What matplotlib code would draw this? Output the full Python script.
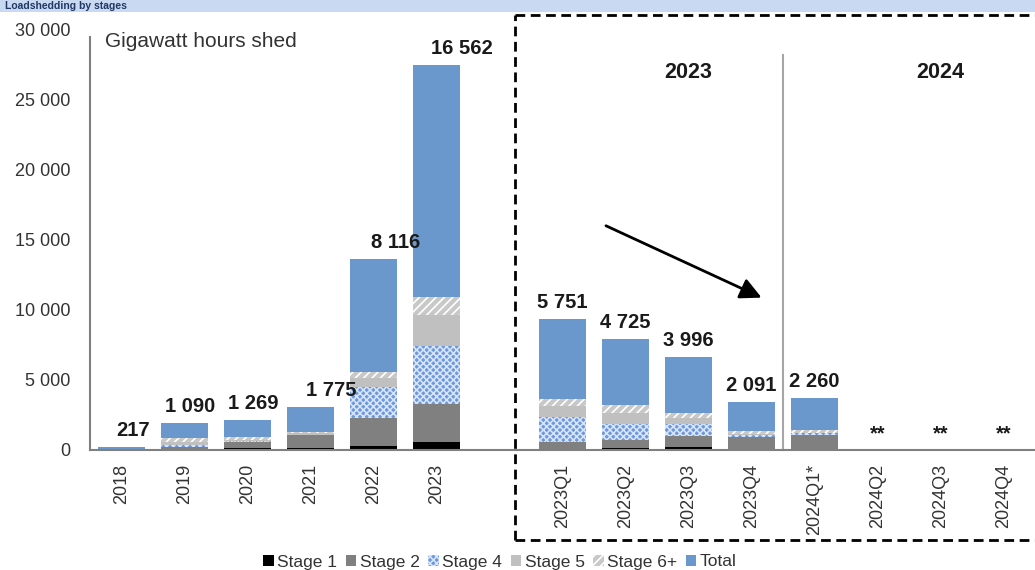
import numpy as np
import matplotlib
matplotlib.use('Agg')
import matplotlib.pyplot as plt
from matplotlib.patches import Rectangle
from matplotlib.lines import Line2D

plt.rcParams['font.family'] = ['Liberation Sans', 'DejaVu Sans']
plt.rcParams['hatch.linewidth'] = 1.2

years = ['2018', '2019', '2020', '2021', '2022', '2023']
quarters = ['2023Q1', '2023Q2', '2023Q3', '2023Q4', '2024Q1*', '2024Q2', '2024Q3', '2024Q4']
cats = years + quarters

stage1 = [0, 30, 150, 150, 300, 600, 100, 170, 240, 100, 100, 0, 0, 0]
stage2 = [30, 150, 450, 900, 1960, 2700, 500, 540, 760, 800, 1000, 0, 0, 0]
stage4 = [0, 200, 50, 50, 2210, 4100, 1780, 1150, 860, 200, 100, 0, 0, 0]
stage5 = [0, 200, 100, 100, 650, 2250, 760, 760, 400, 50, 30, 0, 0, 0]
stage6 = [0, 250, 150, 100, 430, 1300, 480, 590, 410, 210, 200, 0, 0, 0]
total = [217, 1090, 1269, 1775, 8116, 16562, 5751, 4725, 3996, 2091, 2260, 0, 0, 0]
value_labels = ['217', '1 090', '1 269', '1 775', '8 116', '16 562', '5 751', '4 725',
                '3 996', '2 091', '2 260', '**', '**', '**']
# small sideways nudges of the labels, in points
label_dx = [8, 4, 4, 15, 16, 18, 0, 0, 0, 0, 0, 0, 0, 0]

# years then a one-slot gap then the quarters
pos = np.concatenate([np.arange(len(years)), np.arange(len(quarters)) + len(years) + 1])

fig = plt.figure(figsize=(10.35, 5.7), dpi=100)
ax = fig.add_axes([90/1035, 1-450/570, 945/1035, 420/570])

series = [
    ('Stage 1', stage1, dict(color='black')),
    ('Stage 2', stage2, dict(color='#808080')),
    ('Stage 4', stage4, dict(facecolor='#6b97dc', edgecolor='#d6e3f8', hatch='xxxxx')),
    ('Stage 5', stage5, dict(color='#c0c0c0')),
    ('Stage 6+', stage6, dict(facecolor='#c8c8c8', edgecolor='white', hatch='////')),
    ('Total', total, dict(color='#6b98cc')),
]
bottom = np.zeros(len(cats))
handles = []
for name, vals, style in series:
    vals = np.array(vals, dtype=float)
    b = ax.bar(pos, vals, 0.76, bottom=bottom, linewidth=0, label=name, **style)
    handles.append(b)
    bottom += vals

for x, top, lab, dx in zip(pos, bottom, value_labels, label_dx):
    ax.annotate(lab, (x, top), xytext=(dx, 5), textcoords='offset points',
                ha='center', va='bottom', fontsize=14.5, fontweight='bold', color='#1a1a1a')

ax.set_xlim(-0.5, 14.5)
ax.set_ylim(0, 30000)
ax.set_yticks(np.arange(0, 30001, 5000))
ax.set_yticklabels([f'{int(v):,}'.replace(',', ' ') for v in ax.get_yticks()])
ax.set_xticks(pos)
ax.set_xticklabels(cats, rotation=90)
ax.tick_params(axis='both', length=0, labelsize=13, colors='#333333')
ax.tick_params(axis='x', pad=10)
ax.tick_params(axis='y', pad=14)
for s in ['top', 'right']:
    ax.spines[s].set_visible(False)
ax.spines['left'].set_color('#808080')
ax.spines['left'].set_linewidth(1.5)
ax.spines['left'].set_bounds(0, 29500)
ax.spines['bottom'].set_color('#808080')
ax.spines['bottom'].set_linewidth(1.5)

ax.text(-0.26, 29200, 'Gigawatt hours shed', fontsize=15, color='#333333', va='center')

# separator between 2023 and 2024 quarters
ax.plot([10.5, 10.5], [0, 28200], color='#a6a6a6', lw=1.5, clip_on=False)
ax.text(9.0, 27000, '2023', fontsize=15.5, fontweight='bold', ha='center', va='center', color='#1a1a1a')
ax.text(13.0, 27000, '2024', fontsize=15.5, fontweight='bold', ha='center', va='center', color='#1a1a1a')

ax.annotate('', xy=(10.2, 10800), xytext=(7.65, 16100),
            arrowprops=dict(arrowstyle='-|>', color='black', lw=2, mutation_scale=32))

# dashed frame around the quarterly block
box = dict(color='black', lw=2, linestyle=(0, (3.5, 2)), transform=fig.transFigure)
x0, yt, yb = 515/1035, 1-15/570, 1-540/570
fig.add_artist(Line2D([x0, 1.01], [yt, yt], **box))
fig.add_artist(Line2D([x0, x0], [yb, yt], **box))
fig.add_artist(Line2D([x0, 1.01], [yb, yb], **box))

# title band at the very top
fig.add_artist(Rectangle((0, 1-12/570), 1, 12/570, transform=fig.transFigure,
                         color='#c9d9f2', lw=0))
fig.text(0.005, 1-6/570, 'Loadshedding by stages', fontsize=7.5, fontweight='bold',
         color='#1f3864', va='center')

fig.legend(handles=handles, loc='center', bbox_to_anchor=(500/1035, 1-562/570),
           ncol=6, frameon=False, fontsize=12.5, handlelength=0.6, handleheight=0.6,
           handletextpad=0.2, columnspacing=0.5, borderpad=0, labelcolor='#333333')

fig.savefig('out.png', dpi=100)
